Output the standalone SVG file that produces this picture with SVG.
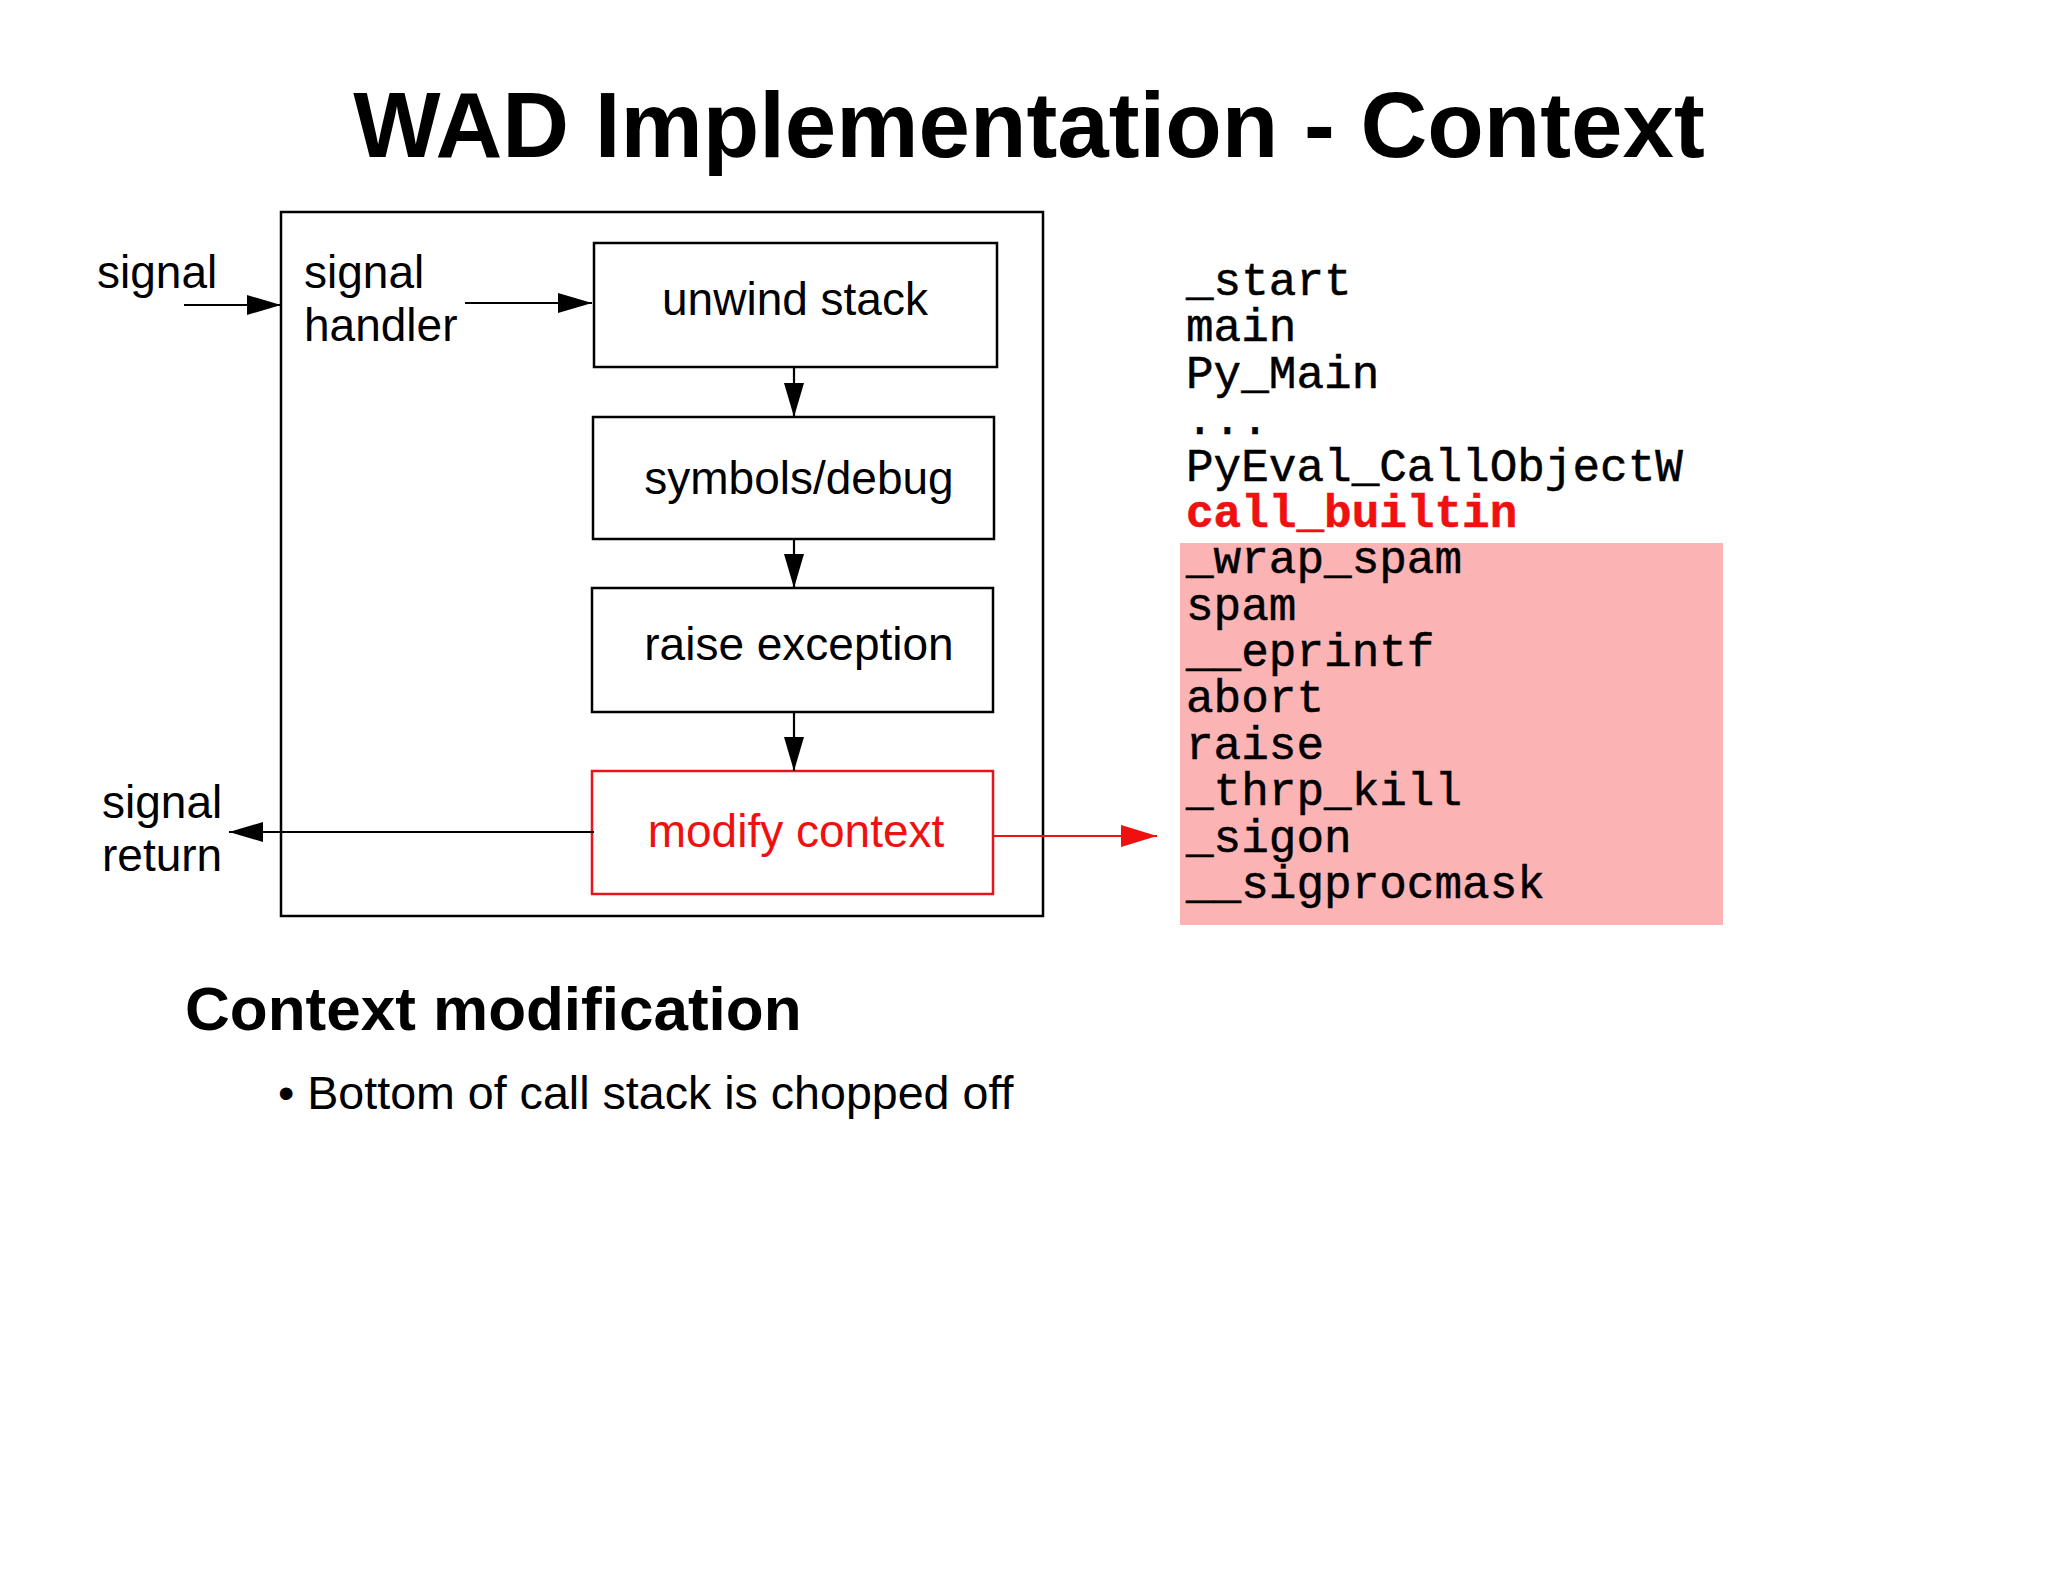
<svg xmlns="http://www.w3.org/2000/svg" width="2048" height="1582" viewBox="0 0 2048 1582">
<style>
.sans{font-family:"Liberation Sans",Arial,Helvetica,sans-serif;}
.lbl{font-family:"Liberation Sans",Arial,sans-serif;font-size:46px;fill:#000;}
.box{fill:none;stroke:#000;stroke-width:2.5;}
.redbox{fill:none;stroke:#e8141c;stroke-width:2.5;}
.ln{stroke:#000;stroke-width:2.2;fill:none;}
.mono{font-family:"Liberation Mono","Courier New",monospace;font-size:46px;fill:#000;stroke:#000;stroke-width:0.5;}
</style>
<defs>
<marker id="ah" markerUnits="userSpaceOnUse" markerWidth="34" markerHeight="20" refX="34" refY="10" orient="auto">
<path d="M0,0 L34,10 L0,20 z" fill="#000"/>
</marker>
<marker id="ahr" markerUnits="userSpaceOnUse" markerWidth="36" markerHeight="22" refX="36" refY="11" orient="auto">
<path d="M0,0 L36,11 L0,22 z" fill="#f01010"/>
</marker>
</defs>
<rect width="2048" height="1582" fill="#fff"/>
<text id="title" x="1029" y="157" text-anchor="middle" class="sans" font-size="92.5" font-weight="bold">WAD Implementation - Context</text>

<g id="outer"><rect x="281" y="212" width="762" height="704" class="box"/></g>
<g id="signal-in"><text x="97" y="288" class="lbl">signal</text></g>
<g id="signal-handler"><text class="lbl"><tspan x="304" y="288">signal</tspan><tspan x="304" y="341">handler</tspan></text></g>
<g id="unwind"><rect x="594" y="243" width="403" height="124" class="box"/><text x="795" y="315" text-anchor="middle" class="lbl">unwind stack</text></g>
<g id="symbols"><rect x="593" y="417" width="401" height="122" class="box"/><text x="799" y="494" text-anchor="middle" class="lbl">symbols/debug</text></g>
<g id="raise"><rect x="592" y="588" width="401" height="124" class="box"/><text x="799" y="660" text-anchor="middle" class="lbl">raise exception</text></g>
<g id="modify"><rect x="592" y="771" width="401" height="123" class="redbox"/><text x="796" y="847" text-anchor="middle" class="lbl" style="fill:#f01010">modify context</text></g>
<g id="signal-return"><text class="lbl"><tspan x="102" y="818">signal</tspan><tspan x="102" y="871">return</tspan></text></g>

<g id="connectors">
<line x1="184" y1="305" x2="281" y2="305" class="ln" marker-end="url(#ah)"/>
<line x1="465" y1="303" x2="592" y2="303" class="ln" marker-end="url(#ah)"/>
<line x1="794" y1="367" x2="794" y2="417" class="ln" marker-end="url(#ah)"/>
<line x1="794" y1="539" x2="794" y2="588" class="ln" marker-end="url(#ah)"/>
<line x1="794" y1="712" x2="794" y2="771" class="ln" marker-end="url(#ah)"/>
<line x1="594" y1="832" x2="229" y2="832" class="ln" marker-end="url(#ah)"/>
<line x1="993" y1="836" x2="1157" y2="836" stroke="#f01010" stroke-width="2.2" marker-end="url(#ahr)"/>
</g>

<g id="stack">
<rect x="1180" y="543" width="543" height="382" fill="#fcb3b4"/>
<text class="mono">
<tspan x="1186" y="295">_start</tspan>
<tspan x="1186" y="341">main</tspan>
<tspan x="1186" y="388">Py_Main</tspan>
<tspan x="1186" y="434">...</tspan>
<tspan x="1186" y="481">PyEval_CallObjectW</tspan>
</text>
<text x="1186" y="527" class="mono" font-weight="bold" style="fill:#f01010;stroke:#f01010;stroke-width:0.5">call_builtin</text>
<text class="mono">
<tspan x="1186" y="573">_wrap_spam</tspan>
<tspan x="1186" y="620">spam</tspan>
<tspan x="1186" y="666">__eprintf</tspan>
<tspan x="1186" y="712">abort</tspan>
<tspan x="1186" y="759">raise</tspan>
<tspan x="1186" y="805">_thrp_kill</tspan>
<tspan x="1186" y="852">_sigon</tspan>
<tspan x="1186" y="898">__sigprocmask</tspan>
</text>
</g>

<text x="185" y="1030" class="sans" font-size="62" font-weight="bold">Context modification</text>
<text x="278" y="1109" class="sans" font-size="46.6">• Bottom of call stack is chopped off</text>
</svg>
